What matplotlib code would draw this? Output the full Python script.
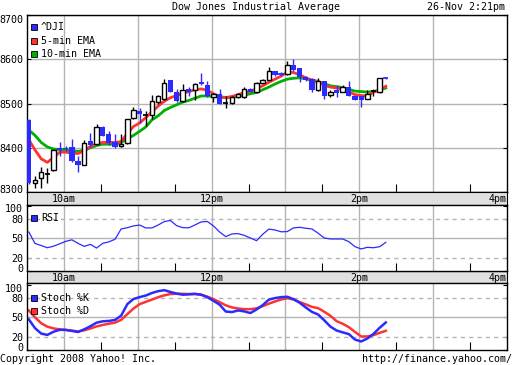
import numpy as np
import matplotlib
matplotlib.use("Agg")
import matplotlib.pyplot as plt
from matplotlib.patches import Rectangle

# 5-minute candles, 9:30 .. 14:20
opens = [8463, 8320, 8331, 8341, 8349, 8400, 8400, 8402, 8370, 8361,
         8416, 8408, 8448, 8431, 8412, 8403, 8410, 8467, 8482, 8474,
         8474, 8503, 8511, 8552, 8527, 8505, 8532, 8530, 8548, 8541,
         8514, 8522, 8500, 8501, 8514, 8514, 8533, 8526, 8547, 8554,
         8573, 8567, 8566, 8586, 8580, 8561, 8556, 8530, 8550, 8520,
         8531, 8526, 8537, 8516, 8516, 8511, 8527, 8526, 8557]
highs = [8464, 8336, 8357, 8355, 8397, 8414, 8404, 8420, 8382, 8418,
         8433, 8454, 8450, 8437, 8431, 8431, 8466, 8492, 8490, 8484,
         8520, 8520, 8555, 8553, 8533, 8545, 8538, 8546, 8569, 8551,
         8523, 8533, 8516, 8516, 8523, 8538, 8534, 8548, 8555, 8582,
         8574, 8572, 8595, 8600, 8581, 8562, 8558, 8557, 8551, 8530,
         8541, 8541, 8550, 8518, 8518, 8531, 8533, 8558, 8558]
lows = [8318, 8308, 8308, 8321, 8348, 8382, 8393, 8367, 8346, 8360,
        8401, 8406, 8426, 8406, 8399, 8402, 8408, 8464, 8455, 8450,
        8465, 8500, 8509, 8525, 8504, 8504, 8518, 8509, 8541, 8515,
        8503, 8498, 8489, 8500, 8513, 8512, 8525, 8524, 8546, 8553,
        8563, 8562, 8565, 8574, 8548, 8550, 8527, 8528, 8510, 8514,
        8514, 8525, 8516, 8508, 8492, 8510, 8516, 8523, 8555]
closes = [8321, 8327, 8345, 8342, 8395, 8396, 8398, 8370, 8361, 8411,
          8407, 8448, 8427, 8410, 8401, 8408, 8464, 8486, 8477, 8474,
          8505, 8516, 8547, 8526, 8505, 8531, 8526, 8545, 8543, 8516,
          8522, 8499, 8501, 8514, 8522, 8533, 8526, 8546, 8554, 8573,
          8564, 8566, 8586, 8575, 8559, 8554, 8530, 8550, 8516, 8526,
          8524, 8537, 8517, 8509, 8509, 8522, 8528, 8558, 8556]

ema5 = [8418, 8395, 8375, 8367, 8378, 8390, 8390, 8388, 8387, 8393,
        8403, 8409, 8412, 8412, 8412, 8414, 8432, 8448, 8456, 8468,
        8481, 8494, 8505, 8513, 8518, 8523, 8527, 8531, 8533, 8530,
        8522, 8516, 8513, 8516, 8520, 8525, 8528, 8533, 8540, 8548,
        8555, 8562, 8571, 8570, 8565, 8558, 8553, 8550, 8541, 8537,
        8535, 8533, 8526, 8520, 8518, 8517, 8526, 8530, 8539]
ema10 = [8440, 8428, 8412, 8402, 8397, 8396, 8395, 8393, 8392, 8394,
         8400, 8405, 8408, 8408, 8408, 8412, 8420, 8428, 8437, 8447,
         8463, 8472, 8484, 8491, 8497, 8503, 8507, 8512, 8517, 8517,
         8516, 8514, 8514, 8514, 8516, 8519, 8522, 8525, 8531, 8537,
         8544, 8550, 8555, 8557, 8558, 8556, 8552, 8549, 8545, 8540,
         8538, 8536, 8532, 8528, 8527, 8526, 8527, 8530, 8535]

rsi = [59.7, 42.1, 39.0, 35.6, 37.9, 41.6, 45.4, 47.7, 42.3, 37.7,
       40.8, 35.1, 42.3, 44.6, 48.5, 64.4, 66.2, 69.0, 70.3, 65.9,
       65.9, 70.3, 75.6, 77.3, 69.5, 66.4, 66.1, 70.5, 75.1, 75.8,
       69.0, 59.7, 52.6, 56.7, 57.2, 54.6, 50.5, 46.4, 56.2, 64.1,
       62.8, 60.0, 60.3, 65.9, 66.9, 65.4, 64.4, 57.9, 50.5, 49.0,
       49.0, 49.0, 44.9, 37.2, 33.8, 36.2, 35.6, 37.2, 43.8]

stoch_k = [47.0, 33.6, 25.3, 23.2, 28.0, 31.0, 30.9, 29.3, 27.7, 31.8,
           36.5, 42.0, 44.1, 44.7, 46.2, 52.8, 70.5, 78.4, 81.3, 83.7,
           87.6, 90.4, 92.0, 89.2, 86.8, 85.0, 85.6, 86.2, 85.0, 81.2,
           75.6, 69.7, 59.1, 58.3, 60.8, 59.4, 56.8, 62.3, 69.0, 77.4,
           79.8, 81.3, 81.8, 78.2, 72.7, 65.4, 58.6, 54.6, 45.7, 36.0,
           30.0, 27.1, 24.4, 16.0, 13.1, 17.7, 24.7, 34.1, 42.3]
stoch_d = [60.8, 50.3, 41.2, 35.9, 33.2, 31.8, 30.9, 29.8, 28.5, 30.3,
           33.1, 36.2, 38.5, 40.4, 42.0, 46.4, 55.1, 63.7, 70.5, 74.0,
           77.5, 81.1, 84.0, 86.0, 86.4, 86.4, 86.0, 86.2, 85.0, 82.0,
           78.2, 73.6, 68.7, 65.5, 63.8, 62.8, 62.8, 64.0, 67.4, 71.2,
           74.6, 77.7, 79.6, 77.6, 73.7, 70.2, 66.3, 64.4, 58.8, 52.6,
           44.4, 40.3, 35.1, 27.7, 20.8, 20.8, 22.8, 26.4, 29.5]

price_ticks = [8300, 8400, 8500, 8600, 8700]
osc_ticks = [0, 20, 50, 80, 100]
hour_ticks = [600, 660, 720, 780, 840, 900]
time_labels = {600: "10am", 720: "12pm", 840: "2pm", 960: "4pm"}

BLUE = "#2b2bff"
RED = "#ff3333"
GREEN = "#00b000"
GRID = "#b4b4b4"
STRIP = "#e0e0e0"

plt.rcParams["font.family"] = "DejaVu Sans Mono"
plt.rcParams["font.size"] = 7.2

W, H = 512, 365
fig = plt.figure(figsize=(W / 100, H / 100), dpi=100)


def box(l, t, r, b):
    return fig.add_axes([l / W, 1 - b / H, (r - l) / W, (b - t) / H])


def legend_item(x, y, color, text):
    fig.patches.append(Rectangle((x / W, 1 - (y + 3) / H), 6 / W, 6 / H,
                                 transform=fig.transFigure, facecolor=color,
                                 edgecolor="black", lw=0.6))
    fig.text((x + 10) / W, 1 - y / H, text, ha="left", va="center")


def style_panel(ax, yticks, ylim, top_dy):
    ax.set_xlim(570, 960)
    ax.set_ylim(*ylim)
    ax.set_xticks(hour_ticks)
    ax.set_xticks(np.arange(630, 960, 60), minor=True)
    ax.grid(True, axis="x", which="major", color=GRID, lw=1)
    ax.tick_params(axis="x", which="major", length=0, labelbottom=False)
    ax.tick_params(axis="x", which="minor", direction="in", length=6,
                   width=0.8, labelbottom=False)
    ax.set_yticks(yticks)
    ax.tick_params(axis="y", direction="in", length=3, right=True,
                   labelleft=False)
    # labels sit a bit inside at the top and bottom, like the original
    for k, v in enumerate(yticks):
        dy = -4
        if k == 0:
            dy = -1.4
        elif k == len(yticks) - 1:
            dy = top_dy
        ax.annotate(str(v), xy=(0, v), xycoords=("axes fraction", "data"),
                    xytext=(-4, dy), textcoords="offset pixels",
                    ha="right", va="baseline", annotation_clip=False)
    for s in ax.spines.values():
        s.set_linewidth(1)
    ax.set_axisbelow(True)


times = 571.5 + 5 * np.arange(len(closes))

# main price panel
ax = box(27, 15, 507, 192)
style_panel(ax, price_ticks, (8300, 8700), -8.3)
ax.grid(True, axis="y", color=GRID, lw=1)
ax.plot(times, ema10, color=GREEN, lw=2, zorder=2)
ax.plot(times, ema5, color=RED, lw=2, zorder=2)
for t, o, h, l, c in zip(times, opens, highs, lows, closes):
    up = c >= o
    col = "black" if up else BLUE
    ax.vlines(t, l, h, color=col, lw=1, zorder=3)
    if abs(c - o) < 1.5:
        ax.hlines((o + c) / 2, t - 2.2, t + 2.2, color=col, lw=1.3, zorder=4)
    elif up:
        ax.bar(t, c - o, bottom=o, width=3.6, facecolor="white",
               edgecolor="black", lw=1, zorder=4)
    else:
        ax.bar(t, o - c, bottom=c, width=4.2, color=BLUE, lw=0, zorder=4)

# time strips
for t, b in [(192, 205), (271, 283)]:
    sx = box(27, t, 507, b)
    sx.set_facecolor(STRIP)
    sx.set_xlim(570, 960)
    sx.set_ylim(0, 1)
    sx.set_xticks([])
    sx.set_yticks([])
    for tm, lab in time_labels.items():
        sx.text(tm, 0.45, lab, ha="right" if tm == 960 else "center",
                va="center")

# RSI panel
ax_rsi = box(27, 205, 507, 271)
style_panel(ax_rsi, osc_ticks, (0, 101), -6.4)
ax_rsi.axhline(50, color=GRID, lw=1, zorder=1)
for v in (20, 80):
    ax_rsi.axhline(v, color=GRID, lw=1, ls=(0, (3, 3)), zorder=1)
ax_rsi.plot(times, rsi, color=BLUE, lw=0.9)

# Stochastics panel
ax_st = box(27, 283, 507, 350)
style_panel(ax_st, osc_ticks, (0, 103), -6.6)
ax_st.axhline(50, color=GRID, lw=1, zorder=1)
for v in (20, 80):
    ax_st.axhline(v, color=GRID, lw=1, ls=(0, (3, 3)), zorder=1)
ax_st.plot(times, stoch_d, color=RED, lw=1.8)
ax_st.plot(times, stoch_k, color=BLUE, lw=1.8)

# legends
legend_item(31, 27, BLUE, "^DJI")
legend_item(31, 41, RED, "5-min EMA")
legend_item(31, 54, GREEN, "10-min EMA")
legend_item(31, 218, BLUE, "RSI")
legend_item(31, 298, BLUE, "Stoch %K")
legend_item(31, 311, RED, "Stoch %D")

fig.text(256 / W, 1 - 7 / H, "Dow Jones Industrial Average", ha="center", va="center")
fig.text(505 / W, 1 - 7 / H, "26-Nov 2:21pm", ha="right", va="center")
fig.text(0, 1 - 359 / H, "Copyright 2008 Yahoo! Inc.", ha="left", va="center")
fig.text(1, 1 - 359 / H, "http://finance.yahoo.com/", ha="right", va="center")

fig.savefig("out.png", dpi=100, facecolor="white")
